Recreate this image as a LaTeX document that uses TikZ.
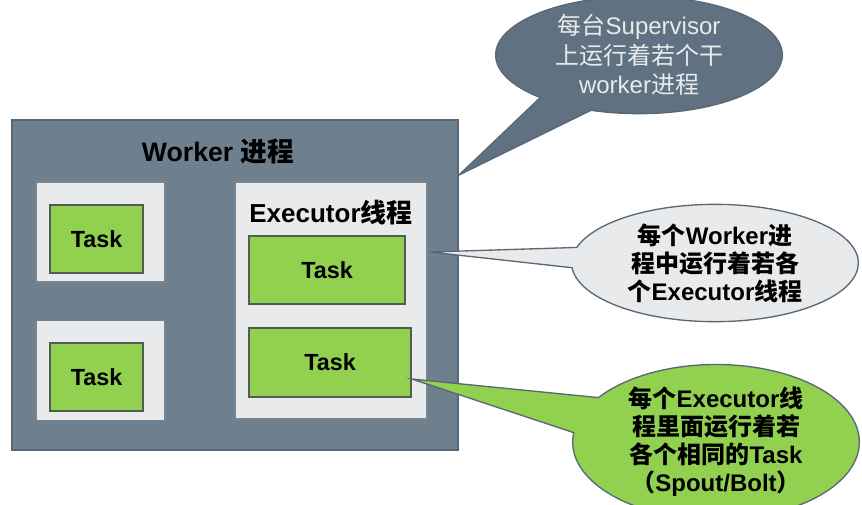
\documentclass[tikz,border=0pt]{standalone}
\usepackage{fontspec}
\setmainfont{Liberation Sans}
\newfontfamily\cjk{Noto Sans CJK SC}
\newcommand{\zh}[1]{{\cjk #1}}
\usetikzlibrary{shapes,shapes.callouts,positioning}

\definecolor{slate}{RGB}{110,128,142}
\definecolor{slateline}{RGB}{88,104,118}
\definecolor{slatedark}{RGB}{96,114,129}
\definecolor{holder}{RGB}{232,234,236}
\definecolor{holderline}{RGB}{120,132,142}
\definecolor{taskgreen}{RGB}{146,208,80}
\definecolor{taskline}{RGB}{80,92,84}
\definecolor{notetext}{RGB}{232,234,236}

\begin{document}
\begin{tikzpicture}[
    x=0.75pt, y=-0.75pt,
    font=\bfseries,
    worker/.style={draw=slateline, fill=slate, line width=1.5pt, rectangle, minimum width=334.5pt, minimum height=247.5pt},
    holder/.style={draw=holderline, fill=holder, line width=1pt, rectangle, minimum width=96.75pt, minimum height=75pt},
    task/.style={draw=taskline, fill=taskgreen, line width=1.2pt, rectangle, minimum width=69.75pt, minimum height=51pt, font=\bfseries\fontsize{17.5}{20}\selectfont},
    note/.style={ellipse callout, draw=slateline, line width=1pt, minimum width=215pt, minimum height=88pt, inner sep=0pt, align=center, font=\bfseries\fontsize{18}{21}\selectfont}
]
\useasboundingbox (0,0) rectangle (862,504);

% ====================
%    Worker process
% ====================

\node[worker] (worker) at (235,285) {};
\node[font=\bfseries\fontsize{20}{22}\selectfont] (worker_lbl) at (218,152) {Worker \zh{进程}};

% Left holders
\node[holder] (hold_a) at (100.5,232) {};
\node[holder] (hold_b) at (100.5,370.5) {};
\node[task] (task_a) at (96.5,239) {Task};
\node[task] (task_b) at (96.5,377) {Task};

% Executor
\node[holder, minimum width=144pt, minimum height=177.75pt] (exec) at (331,300.5) {};
\node[font=\bfseries\fontsize{19.5}{22}\selectfont] (exec_lbl) at (331,213) {Executor\zh{线程}};
\node[task, minimum width=117pt] (task_c) at (327,270) {Task};
\node[task, minimum width=121.5pt, minimum height=51.75pt] (task_d) at (330,362.5) {Task};

% ====================
%       Callouts
% ====================

\coordinate (sup_pt) at (worker.east |- 0,175);
\coordinate (wrk_pt) at (430,252);
\coordinate (exe_pt) at (task_d.east |- 0,379);

\node[note, fill=slatedark, text=notetext, font=\fontsize{18}{22}\selectfont,
      callout absolute pointer=(sup_pt), callout pointer arc=24] (note_sup) at (639,55)
      {\zh{每台}Supervisor\\\zh{上运行着若个干}\\worker\zh{进程}};
\node[note, fill=holder, callout absolute pointer=(wrk_pt), callout pointer arc=20] (note_wrk) at (715,263)
      {\zh{每个}Worker\zh{进}\\\zh{程中运行着若各}\\\zh{个}Executor\zh{线程}};
\node[note, fill=taskgreen, minimum height=90pt, callout absolute pointer=(exe_pt), callout pointer arc=28] (note_exe) at (716,442)
      {\zh{每个}Executor\zh{线}\\\zh{程里面运行着若}\\\zh{各个相同的}Task\\\zh{（}Spout/Bolt\zh{）}};

\end{tikzpicture}
\end{document}
